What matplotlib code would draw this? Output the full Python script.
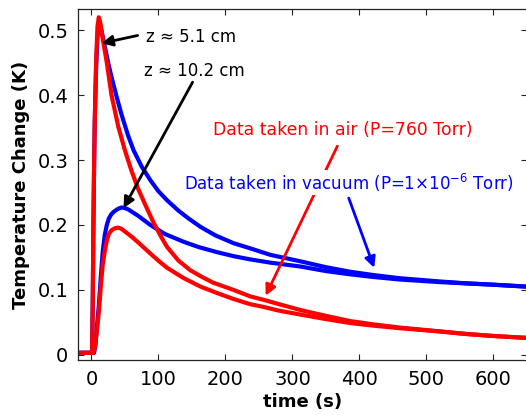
import matplotlib
matplotlib.use("Agg")
import matplotlib.pyplot as plt

# ---- data (time in s, temperature change in K) ----
t_air_near = [-20, 1, 2, 3, 4, 5, 7, 9, 11, 13, 15, 18, 23, 30, 40, 50, 60, 70, 80, 93, 105, 113, 130,
              148, 165, 182, 212, 237, 256, 280, 312, 350, 386, 420, 460, 520, 560, 600, 650]
v_air_near = [0.003, 0.003, 0.08, 0.2, 0.29, 0.36, 0.45, 0.505, 0.52, 0.513, 0.50, 0.48, 0.45, 0.40, 0.352,
              0.315, 0.283, 0.255, 0.232, 0.203, 0.18, 0.166, 0.145, 0.13, 0.12, 0.111, 0.10, 0.09, 0.085,
              0.078, 0.069, 0.06, 0.052, 0.047, 0.042, 0.036, 0.032, 0.029, 0.026]

t_vac_near = [-20, 1, 2, 3, 4, 5, 7, 9, 11, 13, 15, 20, 25, 30, 37, 45, 55, 63, 75, 88, 100, 113, 130,
              145, 163, 185, 212, 237, 267, 312, 350, 386, 420, 460, 520, 560, 600, 650]
v_vac_near = [0.003, 0.003, 0.08, 0.2, 0.29, 0.36, 0.44, 0.49, 0.505, 0.508, 0.50, 0.475, 0.45, 0.428, 0.40,
              0.37, 0.337, 0.315, 0.29, 0.269, 0.252, 0.238, 0.222, 0.21, 0.197, 0.184, 0.172, 0.164, 0.154,
              0.144, 0.135, 0.128, 0.123, 0.118, 0.113, 0.11, 0.108, 0.105]

t_vac_far = [-20, 4, 6, 8, 11, 14, 17, 20, 23, 26, 30, 34, 40, 45, 50, 55, 70, 88, 110, 138, 160, 188,
             212, 237, 267, 312, 350, 386, 420, 460, 520, 560, 600, 650]
v_vac_far = [0.003, 0.003, 0.015, 0.04, 0.075, 0.12, 0.16, 0.185, 0.2, 0.21, 0.217, 0.221, 0.225, 0.227,
             0.226, 0.224, 0.214, 0.2, 0.186, 0.174, 0.166, 0.158, 0.152, 0.147, 0.142, 0.136, 0.129,
             0.124, 0.12, 0.116, 0.112, 0.11, 0.108, 0.105]

t_air_far = [-20, 3, 5, 8, 11, 14, 17, 20, 23, 26, 30, 35, 40, 45, 50, 60, 70, 88, 100, 113, 138, 163,
             188, 212, 237, 256, 280, 312, 350, 386, 420, 460, 520, 560, 600, 650]
v_air_far = [0.003, 0.003, 0.01, 0.035, 0.065, 0.105, 0.14, 0.16, 0.176, 0.186, 0.192, 0.195, 0.196, 0.194,
             0.19, 0.182, 0.173, 0.156, 0.145, 0.134, 0.118, 0.105, 0.095, 0.086, 0.078, 0.074, 0.068,
             0.062, 0.055, 0.049, 0.045, 0.041, 0.036, 0.032, 0.029, 0.026]

x_ticks = [0, 100, 200, 300, 400, 500, 600]
y_ticks = [0, 0.1, 0.2, 0.3, 0.4, 0.5]
y_tick_labels = ["0", "0.1", "0.2", "0.3", "0.4", "0.5"]

plt.rcParams['font.family'] = ['DejaVu Sans']

fig = plt.figure(figsize=(5.26, 4.15), dpi=100)
ax = fig.add_axes([78 / 526, 1 - 360 / 415, 449 / 526, (360 - 9.5) / 415])

lw = 3.0
ax.plot(t_vac_near, v_vac_near, color='#0000ff', lw=lw)
ax.plot(t_vac_far, v_vac_far, color='#0000ff', lw=lw)
ax.plot(t_air_near, v_air_near, color='#ff0000', lw=lw)
ax.plot(t_air_far, v_air_far, color='#ff0000', lw=lw)

ax.set_xlim(-20, 650)
ax.set_ylim(-0.008, 0.532)
ax.set_xticks(x_ticks)
ax.set_yticks(y_ticks)
ax.set_yticklabels(y_tick_labels)
ax.tick_params(direction='in', length=4, width=0.8, top=True, right=True,
               labelsize=14, pad=7, colors='#222222', labelcolor='black')
for s in ax.spines.values():
    s.set_linewidth(0.9)
    s.set_color('#222222')

ax.set_xlabel('time (s)', fontsize=13, fontweight='bold', labelpad=3)
ax.set_ylabel('Temperature Change (K)', fontsize=13, fontweight='bold', labelpad=5)

fs = 12
arrow_black = dict(arrowstyle='-|>', color='black', lw=2, mutation_scale=16,
                   shrinkA=0, shrinkB=0)
ax.text(81, 0.489, 'z ≈ 5.1 cm', fontsize=fs, ha='left', va='center')
ax.annotate('', xy=(15.3, 0.48), xytext=(69, 0.492), arrowprops=arrow_black)
ax.text(78, 0.438, 'z ≈ 10.2 cm', fontsize=fs, ha='left', va='center')
ax.annotate('', xy=(48, 0.226), xytext=(151, 0.42), arrowprops=arrow_black)

ax.annotate('', xy=(260, 0.091), xytext=(367, 0.3215),
            arrowprops=dict(arrowstyle='-|>', color='#ff0000', lw=2, mutation_scale=16,
                            shrinkA=0, shrinkB=0))
ax.text(182, 0.346, 'Data taken in air (P=760 Torr)', fontsize=12.4, color='#ff0000',
        ha='left', va='center')
ax.text(137.5, 0.265, 'Data taken in vacuum (P=1×10$^{-6}$ Torr)', fontsize=fs,
        color='#0000ff', ha='left', va='center',
        bbox=dict(facecolor='white', edgecolor='none', pad=1))
ax.annotate('', xy=(422, 0.134), xytext=(384, 0.2415),
            arrowprops=dict(arrowstyle='-|>', color='#0000ff', lw=2, mutation_scale=16,
                            shrinkA=0, shrinkB=0))

fig.savefig('out.png', dpi=100)
